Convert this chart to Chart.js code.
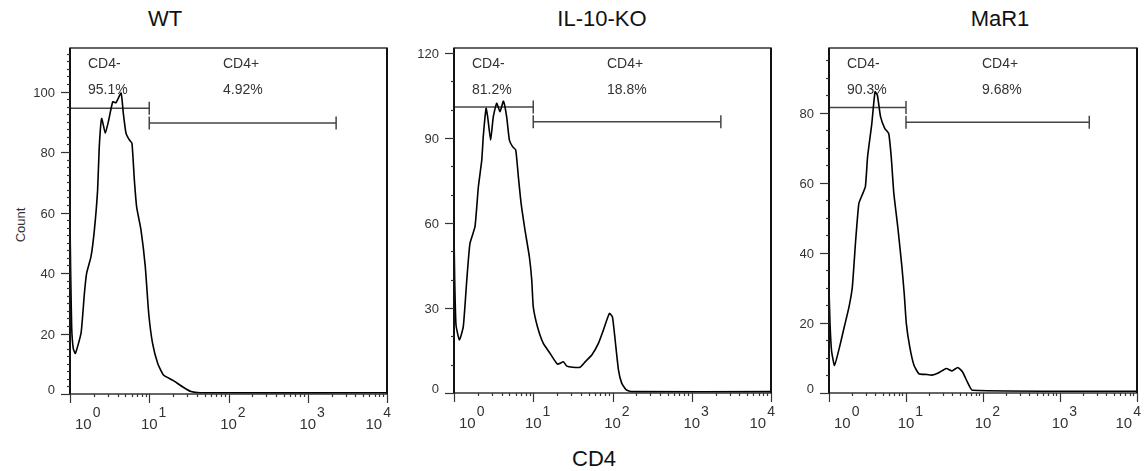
<!DOCTYPE html>
<html>
<head>
<meta charset="utf-8">
<script src="https://cdn.jsdelivr.net/npm/chart.js@4.4.1/dist/chart.umd.min.js"></script>
<style>
  body { margin: 0; background: #fff; width: 1145px; height: 471px; position: relative; overflow: hidden;
         font-family: "Liberation Sans", Arial, sans-serif; }
  canvas { position: absolute; top: 0; }
  .lbl { position: absolute; color: #111; white-space: nowrap; transform: translate(-50%, -50%); }
  .title { font-size: 22px; }
</style>
</head>
<body>
<div class="lbl title" style="left:165px; top:19px">WT</div>
<div class="lbl title" style="left:602px; top:19px">IL-10-KO</div>
<div class="lbl title" style="left:1000px; top:19px">MaR1</div>
<div class="lbl title" style="left:594px; top:459px">CD4</div>
<div class="lbl" style="left:20px; top:225px; font-size:13px; color:#333; transform:translate(-50%,-50%) rotate(-90deg)">Count</div>

<canvas id="cWT" width="400" height="471" style="left:0"></canvas>
<canvas id="cKO" width="400" height="471" style="left:400px"></canvas>
<canvas id="cMaR" width="345" height="471" style="left:800px"></canvas>

<script>
// === Data (CD4 intensity, cell count) ===
const wtCD4 = [1.00, 1.02, 1.05, 1.10, 1.17, 1.38, 1.52, 1.62, 1.84, 2.03, 2.23, 2.34,
  2.51, 2.79, 3.08, 3.46, 3.80, 4.41, 4.71, 5.09, 5.61, 6.05, 6.49, 6.93,
  7.87, 8.91, 9.84, 11.0, 12.8, 15.1, 19.7, 26.3, 33.7, 43.7, 10000];
const wtCount = [57, 40, 22, 15, 13.4, 20.2, 33.3, 39.9, 45.4, 54.2, 67.4, 81.7,
  91.1, 86.2, 90.6, 96.6, 96.3, 99.5, 92.8, 86.2, 84.0, 82.9, 70.7, 61.9,
  54.2, 42.1, 26.7, 16.8, 10.1, 6.3, 4.6, 2.4, 0.8, 0.4, 0.4];

const koCD4 = [1.00, 1.02, 1.06, 1.17, 1.31, 1.45, 1.59, 1.84, 2.03, 2.24, 2.34, 2.54,
  2.66, 2.90, 3.13, 3.46, 3.81, 4.20, 4.62, 5.00, 5.51, 6.01, 6.49, 7.02,
  7.87, 8.93, 9.57, 10.0, 11.3, 13.4, 16.3, 20.2, 24.0, 26.5, 31.6, 39.0,
  45.1, 54.8, 66.4, 76.7, 91.4, 99.8, 108, 119, 131, 149, 175, 10000];
const koCount = [57, 40, 24, 18.7, 23.4, 39.9, 52.8, 58.7, 72.8, 82.2, 90.5, 100.5,
  97.5, 89.3, 97.5, 102.3, 99.3, 103.0, 97.5, 89.3, 86.9, 85.8, 76.3, 67.0,
  57.5, 48.1, 39.9, 30.5, 23.4, 17.5, 14.0, 10.2, 11.0, 9.5, 9.1, 9.1,
  11.0, 13.4, 17.5, 22.2, 28.1, 26.9, 18.7, 8.1, 3.4, 1.1, 0.5, 0.5];

const marCD4 = [1.00, 1.03, 1.08, 1.18, 1.37, 1.58, 1.82, 2.01, 2.22, 2.44, 2.69, 2.97,
  3.17, 3.60, 3.96, 4.25, 4.67, 5.31, 5.96, 6.43, 6.95, 7.82, 8.85, 9.48,
  10.1, 11.2, 12.7, 14.7, 18.7, 21.6, 26.2, 33.4, 39.5, 47.0, 54.3, 62.8, 72.6, 10000];
const marCount = [30, 20, 12, 7.9, 13.1, 18.9, 24.6, 30.3, 43.6, 54.1, 56.5, 58.9,
  67.4, 77.0, 86.0, 85.0, 78.9, 75.5, 74.1, 67.4, 57.0, 47.4, 36.0, 28.4,
  19.8, 13.1, 7.9, 5.5, 5.3, 5.1, 5.7, 7.0, 6.3, 7.3, 6.0, 3.1, 0.8, 0.5];

// gates: [start, CD4-/CD4+ split, end] on CD4, bar heights on count
const wtGateX = [1, 10, 2280];
const wtGateY = [94.5, 89.6];
const koGateX = [1, 10, 2330];
const koGateY = [101, 95.8];
const marGateX = [1, 10, 2400];
const marGateY = [81.5, 77.3];

const wtPct = ["95.1%", "4.92%"];
const koPct = ["81.2%", "18.8%"];
const marPct = ["90.3%", "9.68%"];

const xDecades = [0, 1, 2, 3, 4];

const FONT = '"Liberation Sans", Arial, sans-serif';

// === Plugin: FlowJo-style frame, ticks and gate labels ===
const flowAxes = {
  id: "flowAxes",
  afterDatasetsDraw(chart, args, opts) {
    const { ctx, chartArea: a, scales } = chart;
    const x = scales.x, y = scales.y;
    ctx.save();

    // frame
    ctx.strokeStyle = "#333";
    ctx.lineWidth = 1.5;
    ctx.strokeRect(a.left, a.top, a.right - a.left, a.bottom - a.top);
    ctx.strokeStyle = "#111";
    ctx.lineWidth = 2;
    ctx.beginPath();
    ctx.moveTo(a.left, a.top);
    ctx.lineTo(a.left, a.bottom);
    ctx.moveTo(a.right, a.top);
    ctx.lineTo(a.right, a.bottom);
    ctx.stroke();

    // y ticks
    ctx.strokeStyle = "#333";
    ctx.lineWidth = 1.2;
    ctx.fillStyle = "#333";
    ctx.font = "13px " + FONT;
    ctx.textAlign = "right";
    const n = Math.floor(y.max / opts.yMinor + 1e-6);
    for (let i = 0; i <= n; i++) {
      const v = i * opts.yMinor;
      const py = Math.round(y.getPixelForValue(v)) + 0.5;
      const major = Math.abs(v / opts.yStep - Math.round(v / opts.yStep)) < 1e-6;
      ctx.beginPath();
      ctx.moveTo(a.left, py);
      ctx.lineTo(a.left - (major ? 9 : 3), py);
      ctx.stroke();
      if (major) {
        if (v === 0) {
          ctx.textBaseline = "alphabetic";
          ctx.fillText("0", a.left - 15, a.bottom - 0.5);
        } else {
          ctx.textBaseline = "middle";
          ctx.fillText(String(v), a.left - 15, py + 1);
        }
      }
    }

    // x ticks (log decades + minor)
    for (const d of xDecades) {
      for (let k = 1; k <= 9; k++) {
        if (d === 4 && k > 1) break;
        const px = Math.round(x.getPixelForValue(k * Math.pow(10, d))) + 0.5;
        ctx.beginPath();
        ctx.moveTo(px, a.bottom);
        ctx.lineTo(px, a.bottom + (k === 1 ? 9 : 3));
        ctx.stroke();
      }
    }
    ctx.textAlign = "left";
    ctx.textBaseline = "alphabetic";
    for (const d of xDecades) {
      const px = x.getPixelForValue(Math.pow(10, d));
      ctx.font = "15px " + FONT;
      const w1 = ctx.measureText("10").width;
      ctx.font = "14px " + FONT;
      const w2 = ctx.measureText(String(d)).width;
      let left = px - w1 / 2;
      if (left < a.left + 5) left = a.left + 5;
      if (left + w1 + 1 + w2 > a.right + 4) left = a.right + 4 - w1 - 1 - w2;
      ctx.font = "15px " + FONT;
      ctx.fillText("10", left, a.bottom + 35);
      ctx.font = "14px " + FONT;
      ctx.fillText(String(d), left + w1 + 1, a.bottom + 22.5);
    }

    // gate labels
    ctx.font = "14px " + FONT;
    ctx.fillStyle = "#333";
    ctx.fillText("CD4-", a.left + 18, a.top + 20);
    ctx.fillText(opts.pct[0], a.left + 18, a.top + 46);
    ctx.fillText("CD4+", a.left + 153, a.top + 20);
    ctx.fillText(opts.pct[1], a.left + 153, a.top + 46);

    ctx.restore();
  }
};

function gateSet(p, q, yv) {
  return {
    data: [{ x: p, y: yv }, { x: q, y: yv }],
    borderColor: "#444",
    borderWidth: 1.5,
    pointStyle: "line",
    rotation: 90,
    pointRadius: 6.5,
    pointBorderColor: "#444",
    pointBorderWidth: 1.5,
    clip: false
  };
}

function makePanel(id, cd4, count, gateX, gateY, yMax, yStep, yMinor, pct, pad) {
  const pts = cd4.map((v, i) => ({ x: v, y: count[i] }));
  return new Chart(document.getElementById(id), {
    type: "line",
    data: {
      datasets: [
        {
          data: pts,
          borderColor: "#000",
          borderWidth: 1.6,
          pointRadius: 0,
          tension: 0.15,
          fill: false
        },
        gateSet(gateX[0], gateX[1], gateY[0]),
        gateSet(gateX[1], gateX[2], gateY[1])
      ]
    },
    options: {
      responsive: false,
      animation: false,
      events: [],
      layout: { padding: pad },
      scales: {
        x: { type: "logarithmic", min: 1, max: 10000, display: false },
        y: { type: "linear", min: 0, max: yMax, display: false }
      },
      plugins: {
        legend: { display: false },
        tooltip: { enabled: false },
        flowAxes: { yStep, yMinor, pct }
      }
    },
    plugins: [flowAxes]
  });
}

makePanel("cWT", wtCD4, wtCount, wtGateX, wtGateY, 114.4, 20, 2.5, wtPct,
  { left: 70, right: 13, top: 48, bottom: 77 });
makePanel("cKO", koCD4, koCount, koGateX, koGateY, 121.8, 30, 10, koPct,
  { left: 54, right: 29, top: 48, bottom: 78 });
makePanel("cMaR", marCD4, marCount, marGateX, marGateY, 98.5, 20, 5, marPct,
  { left: 29, right: 1, top: 48, bottom: 78 });
</script>
</body>
</html>
